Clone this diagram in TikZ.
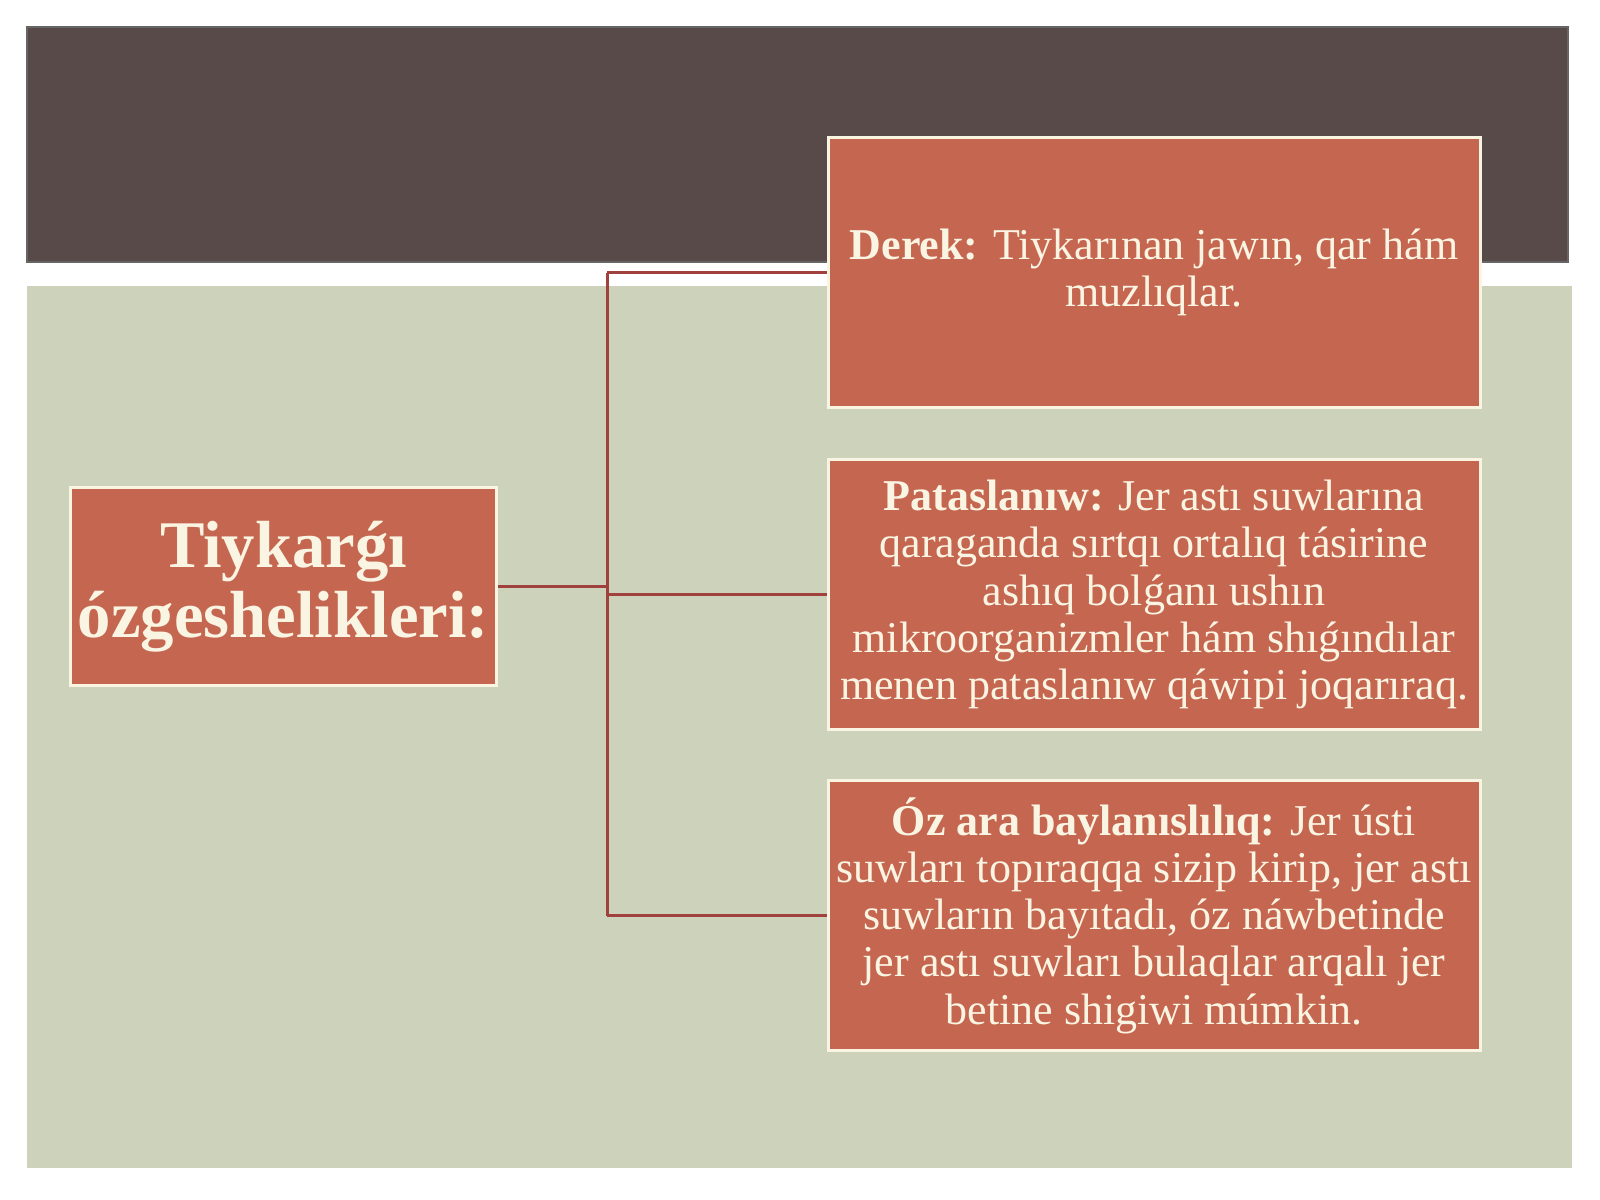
\documentclass[tikz,border=0pt]{standalone}
\usepackage{fontspec}
\setmainfont{Liberation Serif}
\usetikzlibrary{positioning}

\definecolor{bandgray}{RGB}{87,74,73}
\definecolor{sage}{RGB}{205,211,186}
\definecolor{brick}{RGB}{197,102,80}
\definecolor{cream}{RGB}{250,244,226}
\definecolor{linkred}{RGB}{160,65,62}

\tikzset{every picture/.style={line width=0.75pt}}
\tikzset{
  itembox/.style={draw=cream, fill=brick, line width=2.25pt, text=cream, align=center,
    minimum width=489pt, minimum height=202pt, inner sep=2pt,
    font=\fontsize{33}{35.4}\selectfont},
  titlebox/.style={draw=cream, fill=brick, line width=2.25pt, text=cream, align=center,
    minimum width=320pt, minimum height=148pt, inner sep=2pt,
    font=\fontsize{50}{52.5}\selectfont\bfseries},
  link/.style={draw=linkred, line width=2.25pt}
}

\begin{document}
\begin{tikzpicture}[x=0.75pt,y=0.75pt,yscale=-1,xscale=1]
\useasboundingbox (0,0) rectangle (1600,1200);
\fill[white] (0,0) rectangle (1600,1200);

%Background panels
\fill[bandgray] (27,27) rectangle (1568,262);
\draw[black!60, line width=1pt] (27,27) rectangle (1568,262);
\fill[sage] (27,286) rectangle (1572,1168);

% Text Node
\node[titlebox] (title) at (283.5,586.5) {Tiykarǵı\\ózgeshelikleri:};
% Text Node
\node[itembox] (derek) at (1154,272.5) {\textbf{Derek:} Tiykarınan jawın, qar hám\\muzlıqlar.};
% Text Node
\node[itembox] (patas) at (1154,594.5) {\textbf{Pataslanıw:} Jer astı suwlarına\\qaraganda sırtqı ortalıq tásirine\\ashıq bolǵanı ushın\\mikroorganizmler hám shıǵındılar\\menen pataslanıw qáwipi joqarıraq.};
% Text Node
\node[itembox] (baylan) at (1154,915.5) {\textbf{Óz ara baylanıslılıq:} Jer ústi\\suwları topıraqqa sizip kirip, jer astı\\suwların bayıtadı, óz náwbetinde\\jer astı suwları bulaqlar arqalı jer\\betine shigiwi múmkin.};

\coordinate (hub) at (607,586.5);

%Straight Lines
\draw[link] (title.east) -- (hub);
\draw[link] (hub |- derek.west) -- (hub |- baylan.west);
\draw[link] (hub |- derek.west) -- (derek.west);
\draw[link] (hub |- patas.west) -- (patas.west);
\draw[link] (hub |- baylan.west) -- (baylan.west);

\end{tikzpicture}
\end{document}
